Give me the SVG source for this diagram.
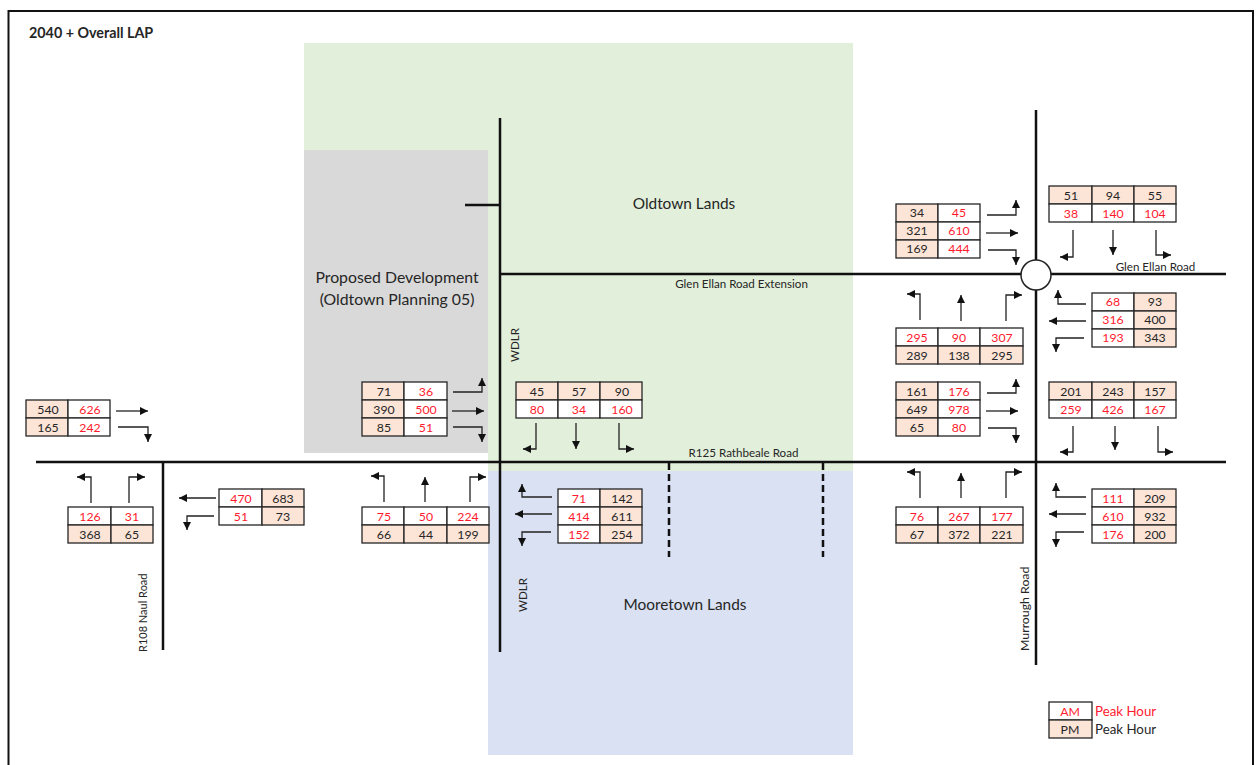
<svg xmlns="http://www.w3.org/2000/svg" width="1258" height="765" viewBox="0 0 1258 765">
<style>
text{font-family:Lato,"Liberation Sans",sans-serif;fill:#262626}
.c{text-anchor:middle;font-size:12.3px}
.r{fill:#ff1a2e}
.p{fill:#fce4d6;stroke:#262626;stroke-width:1.3}
.w{fill:#fff;stroke:#262626;stroke-width:1.3}
.road{stroke:#111;stroke-width:2.5;fill:none}
.dash{stroke:#111;stroke-width:2.5;fill:none;stroke-dasharray:7 4}
.a{stroke:#222;stroke-width:1.3;fill:none;marker-end:url(#ah)}
.l{font-size:11.6px}
.big{font-size:15.4px;text-anchor:middle}
</style>
<defs><marker id="ah" markerUnits="userSpaceOnUse" markerWidth="9" markerHeight="9" refX="8" refY="4.500" orient="auto"><path d="M0,0.500L8,4.500L0,8.500Z" fill="#111"/></marker></defs>
<rect width="1258" height="765" fill="#fff"/>
<g id="areas">
<path d="M304,43H853V471H488V150H304Z" fill="#e2efda"/>
<rect x="304" y="150" width="184" height="303" fill="#d9d9d9"/>
<rect x="488" y="471" width="365" height="284" fill="#d9e1f2"/>
<path d="M8.500,765V11H1253V765" fill="none" stroke="#111" stroke-width="2"/>
</g>
<g id="roads">
<path class="road" d="M36,462H1226"/><path class="road" d="M500,118V652"/><path class="road" d="M1036,110V665"/>
<path class="road" d="M500,274H1226"/><path class="road" d="M465,205H500"/><path class="road" d="M163,462V650"/>
<path class="dash" d="M669,463V557"/><path class="dash" d="M823,463V557"/>
<circle cx="1036" cy="275" r="15" fill="#fff" stroke="#222" stroke-width="1.500"/>
</g>
<g id="connectors">
<path class="a" d="M987,215H1016V200"/><path class="a" d="M986,233H1018"/><path class="a" d="M988,250H1016V265"/>
<path class="a" d="M1073,230V257H1060"/><path class="a" d="M1113,230V255"/><path class="a" d="M1156,230V255H1171"/>
<path class="a" d="M1086,304H1058V290"/><path class="a" d="M1086,321H1049"/><path class="a" d="M1084,338H1056V352"/>
<path class="a" d="M920,320V294H907"/><path class="a" d="M961,321V295"/><path class="a" d="M1006,321V295H1022"/>
<path class="a" d="M453,392H482V378"/><path class="a" d="M452,411H484"/><path class="a" d="M453,427H482V442"/>
<path class="a" d="M536,423V449H523"/><path class="a" d="M576,423V449"/><path class="a" d="M619,423V449H634"/>
<path class="a" d="M384,502V476H371"/><path class="a" d="M425,502V477"/><path class="a" d="M470,502V477H486"/>
<path class="a" d="M552,497H522V484"/><path class="a" d="M552,514H515"/><path class="a" d="M551,532H522V546"/>
<path class="a" d="M116,411H148"/><path class="a" d="M118,427H148V442"/>
<path class="a" d="M91,503V477H77"/><path class="a" d="M129,503V477H145"/>
<path class="a" d="M216,498H179"/><path class="a" d="M214,516H187V530"/>
<path class="a" d="M987,393H1016V379"/><path class="a" d="M986,411H1018"/><path class="a" d="M988,428H1016V443"/>
<path class="a" d="M1073,426V452H1060"/><path class="a" d="M1115,426V450"/><path class="a" d="M1158,426V452H1173"/>
<path class="a" d="M1086,497H1056V483"/><path class="a" d="M1086,514H1049"/><path class="a" d="M1084,532H1056V547"/>
<path class="a" d="M920,498V472H907"/><path class="a" d="M961,498V473"/><path class="a" d="M1006,498V472H1022"/>
</g>
<g id="t1"><rect class="p" x="896" y="204" width="42" height="18"/><rect class="w" x="938" y="204" width="42" height="18"/><rect class="p" x="896" y="222" width="42" height="18"/><rect class="w" x="938" y="222" width="42" height="18"/><rect class="p" x="896" y="240" width="42" height="18"/><rect class="w" x="938" y="240" width="42" height="18"/>
<text class="c" x="917" y="217">34</text><text class="c r" x="959" y="217">45</text><text class="c" x="917" y="235">321</text><text class="c r" x="959" y="235">610</text><text class="c" x="917" y="253">169</text><text class="c r" x="959" y="253">444</text></g>
<g id="t2"><rect class="p" x="1049" y="186" width="43" height="18"/><rect class="p" x="1092" y="186" width="42" height="18"/><rect class="p" x="1134" y="186" width="42" height="18"/><rect class="w" x="1049" y="204" width="43" height="18"/><rect class="w" x="1092" y="204" width="42" height="18"/><rect class="w" x="1134" y="204" width="42" height="18"/>
<text class="c" x="1071" y="200">51</text><text class="c" x="1113" y="200">94</text><text class="c" x="1155" y="200">55</text><text class="c r" x="1071" y="218">38</text><text class="c r" x="1113" y="218">140</text><text class="c r" x="1155" y="218">104</text></g>
<g id="t3"><rect class="w" x="1092" y="293" width="42" height="18"/><rect class="p" x="1134" y="293" width="42" height="18"/><rect class="w" x="1092" y="311" width="42" height="18"/><rect class="p" x="1134" y="311" width="42" height="18"/><rect class="w" x="1092" y="329" width="42" height="18"/><rect class="p" x="1134" y="329" width="42" height="18"/>
<text class="c r" x="1113" y="306">68</text><text class="c" x="1155" y="306">93</text><text class="c r" x="1113" y="324">316</text><text class="c" x="1155" y="324">400</text><text class="c r" x="1113" y="342">193</text><text class="c" x="1155" y="342">343</text></g>
<g id="t4"><rect class="w" x="896" y="328" width="42" height="18"/><rect class="w" x="938" y="328" width="42" height="18"/><rect class="w" x="980" y="328" width="43" height="18"/><rect class="p" x="896" y="346" width="42" height="18"/><rect class="p" x="938" y="346" width="42" height="18"/><rect class="p" x="980" y="346" width="43" height="18"/>
<text class="c r" x="917" y="342">295</text><text class="c r" x="959" y="342">90</text><text class="c r" x="1002" y="342">307</text><text class="c" x="917" y="360">289</text><text class="c" x="959" y="360">138</text><text class="c" x="1002" y="360">295</text></g>
<g id="t5"><rect class="p" x="362" y="382" width="42" height="18"/><rect class="w" x="404" y="382" width="43" height="18"/><rect class="p" x="362" y="400" width="42" height="18"/><rect class="w" x="404" y="400" width="43" height="18"/><rect class="p" x="362" y="418" width="42" height="18"/><rect class="w" x="404" y="418" width="43" height="18"/>
<text class="c" x="384" y="396">71</text><text class="c r" x="426" y="396">36</text><text class="c" x="384" y="414">390</text><text class="c r" x="426" y="414">500</text><text class="c" x="384" y="432">85</text><text class="c r" x="426" y="432">51</text></g>
<g id="t6"><rect class="p" x="516" y="382" width="42" height="18"/><rect class="p" x="558" y="382" width="42" height="18"/><rect class="p" x="600" y="382" width="42" height="18"/><rect class="w" x="516" y="400" width="42" height="18"/><rect class="w" x="558" y="400" width="42" height="18"/><rect class="w" x="600" y="400" width="42" height="18"/>
<text class="c" x="537" y="396">45</text><text class="c" x="579" y="396">57</text><text class="c" x="622" y="396">90</text><text class="c r" x="537" y="414">80</text><text class="c r" x="579" y="414">34</text><text class="c r" x="622" y="414">160</text></g>
<g id="t7"><rect class="w" x="362" y="507" width="42" height="18"/><rect class="w" x="404" y="507" width="43" height="18"/><rect class="w" x="447" y="507" width="42" height="18"/><rect class="p" x="362" y="525" width="42" height="18"/><rect class="p" x="404" y="525" width="43" height="18"/><rect class="p" x="447" y="525" width="42" height="18"/>
<text class="c r" x="384" y="521">75</text><text class="c r" x="426" y="521">50</text><text class="c r" x="468" y="521">224</text><text class="c" x="384" y="539">66</text><text class="c" x="426" y="539">44</text><text class="c" x="468" y="539">199</text></g>
<g id="t8"><rect class="w" x="558" y="489" width="42" height="18"/><rect class="p" x="600" y="489" width="42" height="18"/><rect class="w" x="558" y="507" width="42" height="18"/><rect class="p" x="600" y="507" width="42" height="18"/><rect class="w" x="558" y="525" width="42" height="18"/><rect class="p" x="600" y="525" width="42" height="18"/>
<text class="c r" x="579" y="503">71</text><text class="c" x="622" y="503">142</text><text class="c r" x="579" y="521">414</text><text class="c" x="622" y="521">611</text><text class="c r" x="579" y="539">152</text><text class="c" x="622" y="539">254</text></g>
<g id="t9"><rect class="p" x="26" y="400" width="42" height="18"/><rect class="w" x="68" y="400" width="42" height="18"/><rect class="p" x="26" y="418" width="42" height="18"/><rect class="w" x="68" y="418" width="42" height="18"/>
<text class="c" x="48" y="414">540</text><text class="c r" x="90" y="414">626</text><text class="c" x="48" y="432">165</text><text class="c r" x="90" y="432">242</text></g>
<g id="t10"><rect class="w" x="68" y="507" width="43" height="18"/><rect class="w" x="111" y="507" width="42" height="18"/><rect class="p" x="68" y="525" width="43" height="18"/><rect class="p" x="111" y="525" width="42" height="18"/>
<text class="c r" x="90" y="521">126</text><text class="c r" x="132" y="521">31</text><text class="c" x="90" y="539">368</text><text class="c" x="132" y="539">65</text></g>
<g id="t11"><rect class="w" x="219" y="489" width="43" height="18"/><rect class="p" x="262" y="489" width="42" height="18"/><rect class="w" x="219" y="507" width="43" height="18"/><rect class="p" x="262" y="507" width="42" height="18"/>
<text class="c r" x="241" y="503">470</text><text class="c" x="283" y="503">683</text><text class="c r" x="241" y="521">51</text><text class="c" x="283" y="521">73</text></g>
<g id="t12"><rect class="p" x="896" y="382" width="42" height="18"/><rect class="w" x="938" y="382" width="42" height="18"/><rect class="p" x="896" y="400" width="42" height="18"/><rect class="w" x="938" y="400" width="42" height="18"/><rect class="p" x="896" y="418" width="42" height="18"/><rect class="w" x="938" y="418" width="42" height="18"/>
<text class="c" x="917" y="396">161</text><text class="c r" x="959" y="396">176</text><text class="c" x="917" y="414">649</text><text class="c r" x="959" y="414">978</text><text class="c" x="917" y="432">65</text><text class="c r" x="959" y="432">80</text></g>
<g id="t13"><rect class="p" x="1049" y="382" width="43" height="18"/><rect class="p" x="1092" y="382" width="42" height="18"/><rect class="p" x="1134" y="382" width="42" height="18"/><rect class="w" x="1049" y="400" width="43" height="18"/><rect class="w" x="1092" y="400" width="42" height="18"/><rect class="w" x="1134" y="400" width="42" height="18"/>
<text class="c" x="1071" y="396">201</text><text class="c" x="1113" y="396">243</text><text class="c" x="1155" y="396">157</text><text class="c r" x="1071" y="414">259</text><text class="c r" x="1113" y="414">426</text><text class="c r" x="1155" y="414">167</text></g>
<g id="t14"><rect class="w" x="1092" y="489" width="42" height="18"/><rect class="p" x="1134" y="489" width="42" height="18"/><rect class="w" x="1092" y="507" width="42" height="18"/><rect class="p" x="1134" y="507" width="42" height="18"/><rect class="w" x="1092" y="525" width="42" height="18"/><rect class="p" x="1134" y="525" width="42" height="18"/>
<text class="c r" x="1113" y="503">111</text><text class="c" x="1155" y="503">209</text><text class="c r" x="1113" y="521">610</text><text class="c" x="1155" y="521">932</text><text class="c r" x="1113" y="539">176</text><text class="c" x="1155" y="539">200</text></g>
<g id="t15"><rect class="w" x="896" y="507" width="42" height="18"/><rect class="w" x="938" y="507" width="42" height="18"/><rect class="w" x="980" y="507" width="43" height="18"/><rect class="p" x="896" y="525" width="42" height="18"/><rect class="p" x="938" y="525" width="42" height="18"/><rect class="p" x="980" y="525" width="43" height="18"/>
<text class="c r" x="917" y="521">76</text><text class="c r" x="959" y="521">267</text><text class="c r" x="1002" y="521">177</text><text class="c" x="917" y="539">67</text><text class="c" x="959" y="539">372</text><text class="c" x="1002" y="539">221</text></g>
<g id="legend"><rect class="w" x="1049" y="702" width="43" height="18"/><rect class="p" x="1049" y="720" width="43" height="18"/>
<text class="c r" x="1070" y="716">AM</text><text class="c" x="1070" y="734">PM</text>
<text class="r" x="1095" y="716" font-size="13.300">Peak Hour</text><text x="1095" y="734" font-size="13.300">Peak Hour</text></g>
<g id="labels">
<text x="29" y="38" font-size="14.300" font-weight="700" fill="#000">2040 + Overall LAP</text>
<text class="big" x="684" y="209">Oldtown Lands</text>
<text class="big" x="397" y="283" style="font-size:15.800px">Proposed Development</text>
<text class="big" x="397" y="305" style="font-size:15.800px">(Oldtown Planning 05)</text>
<text class="big" x="685" y="610">Mooretown Lands</text>
<text class="l" x="741.500" y="288" text-anchor="middle">Glen Ellan Road Extension</text>
<text class="l" x="1155.500" y="271" text-anchor="middle">Glen Ellan Road</text>
<text class="l" x="743.500" y="457" text-anchor="middle">R125 Rathbeale Road</text>
<text class="l" transform="translate(519,362) rotate(-90)">WDLR</text>
<text class="l" transform="translate(527,612) rotate(-90)">WDLR</text>
<text class="l" style="font-size:11px" transform="translate(147,652) rotate(-90)">R108 Naul Road</text>
<text class="l" style="font-size:12.300px" transform="translate(1029,651) rotate(-90)">Murrough Road</text>
</g>
</svg>
